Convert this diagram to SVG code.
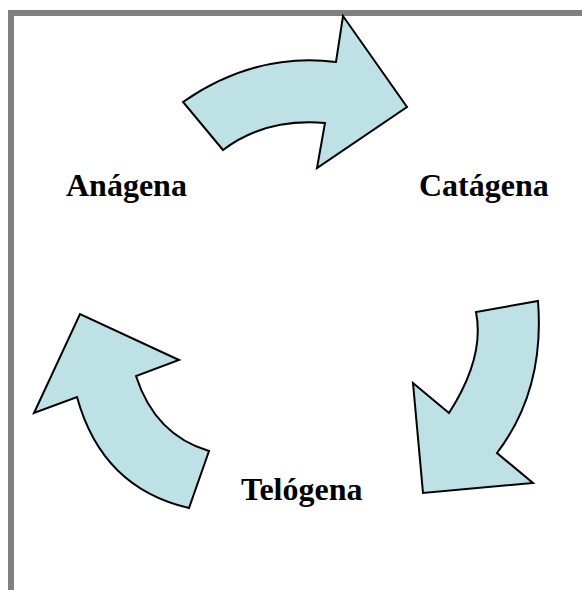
<svg xmlns="http://www.w3.org/2000/svg" width="582" height="590" viewBox="0 0 582 590">
<style>
.arrow{fill:#bde1e4;stroke:#000;stroke-width:2;stroke-linejoin:miter}
.lbl{font-family:"Liberation Serif","Times New Roman",serif;font-weight:bold;font-size:32px;fill:#000}
.frame{fill:#808080}
</style>
<rect class="frame" x="8" y="10" width="574" height="6"/>
<rect class="frame" x="8" y="10" width="6" height="580"/>
<g id="arrow-top">
<path class="arrow" d="M183,102 Q255,52 336,62 L343,16 L407,107 L317,168 L325,123 Q265,118 223,150 Z"/>
</g>
<g id="arrow-right">
<path class="arrow" d="M538,301 Q545,390 497,453 L533,483 L423,493 L413,383 L449,413 Q485,357 476,312 Z"/>
</g>
<g id="arrow-left">
<path class="arrow" d="M189,508 Q102,488 77,397 L34,413 L80,314 L179,360 L136,376 Q155,435 209,451 Z"/>
</g>
<g id="anagena"><text class="lbl" x="66" y="196">Anágena</text></g>
<g id="catagena"><text class="lbl" x="419" y="196">Catágena</text></g>
<g id="telogena"><text class="lbl" x="241" y="500">Telógena</text></g>
</svg>
